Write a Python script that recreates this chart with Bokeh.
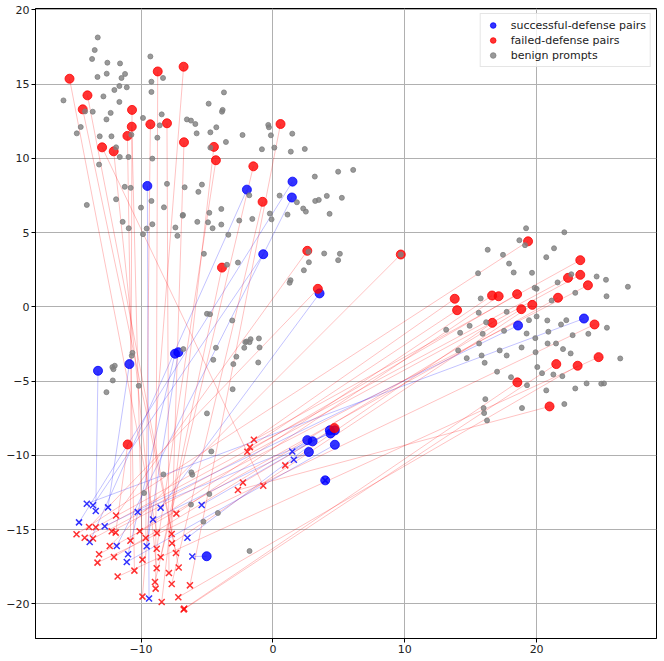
from bokeh.plotting import figure
from bokeh.models import ColumnDataSource, FixedTicker, Legend, LegendItem, Range1d
from bokeh.embed import file_html
from bokeh.resources import INLINE

# successful-defense pairs: harmful prompt (circle) -> defended embedding (x)
succ_src_x = [-5.02, -13.26, -10.88, -9.52, -7.42, -7.17, 3.54, -0.73, 1.49, 1.44, -1.97,
              18.59, 23.59, 3.97, 2.73, 2.61, 3.01, 4.32, 4.70, 4.37, 4.70]
succ_src_y = [-16.80, -4.31, -3.86, 8.14, -3.16, -3.06, 0.90, 3.54, 8.43, 7.36, 7.89,
              -1.26, -0.79, -11.69, -9.78, -8.98, -9.06, -8.32, -8.32, -8.53, -9.29]
succ_dst_x = [-6.11, -13.43, -12.50, -9.39, -10.98, -9.57, -8.51, -13.64, -14.70, -11.84, -13.89,
              -12.75, -14.11, 3.97, 1.59, 1.47, -5.40, -6.48, -9.09, -10.25, -11.08]
succ_dst_y = [-16.82, -13.75, -13.51, -19.65, -16.67, -16.13, -13.53, -13.37, -14.52, -16.11, -15.84,
              -14.78, -13.26, -11.69, -10.30, -9.74, -13.35, -15.55, -14.33, -13.82, -17.19]

# failed-defense pairs
fail_src_x = [-15.42, -14.06, -14.42, -10.68, -10.70, -11.03, -12.95, -12.07, -9.29, -8.03, -8.73,
              -6.77, -6.74, -4.47, -4.32, 0.58, -1.48, -0.78, -3.86, 2.61, 3.41, 9.70,
              -11.01, 4.67, 19.35, 23.31, 23.31, 22.38, 23.89, 21.62, 13.79, 13.97, 16.62,
              17.12, 18.52, 19.67, 18.84, 16.64, 24.39, 21.49, 23.11, 24.70, 18.54, 20.98]
fail_src_y = [15.36, 14.24, 13.30, 13.26, 12.13, 11.51, 10.74, 10.47, 12.29, 12.36, 15.85,
              16.17, 11.08, 10.77, 9.87, 12.31, 9.46, 7.07, 2.64, 3.77, 1.21, 3.52,
              -9.27, -8.17, 4.41, 3.14, 2.15, 1.95, 1.45, 0.61, 0.54, -0.23, 0.76,
              0.71, 0.85, 0.13, -0.16, -1.08, -1.19, -3.86, -3.97, -3.39, -5.09, -6.71]
fail_dst_x = [-8.79, -7.14, -7.35, -10.80, -9.89, -10.50, -0.73, -8.81, -9.64, -7.88, -8.89,
              -9.89, -7.67, -8.43, -8.81, -6.29, -8.94, -7.67, -8.51, -11.89, -13.94, -12.37,
              -11.92, -2.27, -14.89, -13.43, -13.64, -14.27, -12.22, -13.18, -1.44, -1.74, -10.10,
              -7.32, -1.94, -7.65, -12.05, 0.94, -13.30, -6.77, -7.17, -11.77, -6.72, -2.65]
fail_dst_y = [-15.24, -17.56, -16.58, -15.75, -17.03, -17.77, -12.05, -17.61, -15.57, -17.93, -18.98,
              -19.52, -15.30, -19.88, -16.29, -18.76, -18.53, -18.67, -16.87, -14.06, -14.83, -16.11,
              -15.21, -11.84, -15.32, -14.85, -15.61, -15.55, -15.12, -16.67, -8.95, -9.45, -15.12,
              -13.93, -9.76, -15.93, -16.85, -10.68, -17.23, -20.39, -19.56, -18.17, -20.33, -12.34]

# benign prompts
benign_x = [-13.28, -13.51, -13.71, -12.55, -11.59, -13.30, -12.60, -11.21, -11.48, -9.29, -8.33,
            -9.21, -11.64, -11.08, -12.02, -12.85, -15.88, -9.21, -11.64, -14.24, -13.66, -12.30,
            -12.62, -8.43, -9.85, -8.58, -14.57, -14.87, -13.13, -12.24, -10.73, -8.76, -11.89,
            -11.61, -10.95, -9.14, -13.18, -3.71, -4.87, -3.81, -3.86, -6.52, -6.21, -5.88,
            -4.29, -4.74, -5.78, -2.30, -3.56, -4.74, -11.23, -10.78, -8.03, -6.69, -5.38,
            -5.65, -11.89, -9.21, -14.11, -10.00, -8.26, -6.82, -4.82, -3.91,
            -0.35, -0.30, -0.15, 1.47, -0.83, 0.11, 1.36, 2.42, 3.18, 4.95, 6.09, -1.79,
            0.51, 1.82, 3.21, 3.48, 4.09, 5.23, 2.30, 2.50, -0.23, 1.11, 4.30, -1.56, -0.10,
            -11.39, -10.93, -9.57, -9.14, -9.85, -7.39, -7.24, -6.84, -5.73, -4.92, -4.57,
            -3.91, -3.38, -2.55, -5.23, -3.48, -2.65, -5.00, -4.77, -3.08, -4.32, -4.52,
            -3.00, -2.77, -2.09, -2.17, -6.79, -10.65, -10.70, -11.99, -12.17, -12.09, -12.14,
            -12.62, -10.17, -3.05, -5.00,
            3.89, 5.08, 2.73, 4.95, 2.35, 1.34, 1.27, -1.99, -1.77, -1.69, -1.06, -1.01,
            -1.11, 13.14, 2.70, 9.70,
            19.20, 22.10, 18.69, 19.12, 16.29, 21.32, 17.45, 20.73, 17.91, 15.56, 18.26,
            19.65, 22.63, 24.55, 25.26, 26.92, 21.59, 19.85, 20.00, 22.93, 25.30, 15.76,
            21.14, 17.73, 15.61, 19.42, 20.00, 20.81, 21.85, 22.25, 14.92, 16.17, 14.20,
            15.91, 17.53, 19.24, 20.89, 22.73, 23.92, 25.33, 19.90, 15.64, 20.83, 21.47,
            18.86, 14.05, 17.20, 22.00, 15.83, 17.73, 19.92, 22.58, 14.70, 16.06, 26.34,
            20.05, 20.41, 21.27, 21.95, 17.00, 18.06, 19.27, 20.73, 22.93, 23.79, 24.90,
            25.11, 16.11, 15.98, 16.02, 16.24, 18.89, 22.10,
            -4.67, -8.30, -6.18, -6.11, -9.77, -4.82, -6.21, -4.17, -5.27, -1.77]
benign_y = [18.14, 17.29, 16.69, 16.44, 16.39, 15.48, 15.70, 15.68, 15.41, 16.86, 15.41,
            15.16, 14.87, 14.78, 14.60, 14.17, 13.90, 14.47, 13.80, 13.16, 13.14, 13.06,
            12.62, 12.96, 12.72, 12.22, 12.11, 11.68, 11.48, 11.48, 11.59, 11.39, 10.74,
            10.09, 10.09, 9.98, 9.58, 14.44, 13.68, 13.26, 13.14, 12.62, 12.54, 12.31,
            12.09, 11.75, 11.68, 11.57, 11.10, 10.72, 8.08, 8.01, 8.28, 8.05, 8.23,
            7.74, 7.24, 7.13, 6.86, 6.68, 6.70, 6.19, 6.33, 6.59,
            12.25, 12.09, 11.55, 11.66, 10.61, 10.72, 10.45, 10.63, 8.77, 9.10, 9.22, 7.51,
            7.49, 7.04, 7.13, 7.20, 7.47, 7.34, 6.62, 6.41, 6.28, 6.21, 6.26, 5.92, 5.89,
            5.72, 5.29, 5.27, 5.56, 4.89, 5.34, 4.78, 6.14, 5.72, 5.69, 5.29,
            5.54, 4.85, 5.81, 3.57, 2.83, 2.98, -0.47, -0.50, -0.92, -2.76, -3.57,
            -3.86, -3.36, -2.38, -2.76, -2.85, -3.10, -3.30, -3.97, -4.06, -4.20, -4.96,
            -5.75, -5.32, -5.55, -7.18,
            3.59, 3.57, 3.00, 3.14, 2.46, 1.79, 1.62, -2.34, -2.38, -2.18, -2.13, -2.74,
            -3.75, -1.55, 3.70, 3.52,
            5.29, 5.02, 4.48, 4.15, 3.84, 3.94, 3.50, 3.34, 2.91, 2.26, 2.31,
            2.29, 2.19, 2.04, 1.82, 1.35, 1.64, 1.28, 1.21, 0.94, 0.71, 0.56,
            0.42, -0.34, -0.40, -0.90, -0.65, -0.92, -1.19, -0.90, -1.28, -1.04, -1.75,
            -1.82, -1.62, -1.80, -1.68, -1.91, -1.82, -1.41, -2.11, -2.47, -2.47, -2.47,
            -2.74, -2.94, -2.94, -2.85, -3.28, -3.28, -3.06, -3.14, -3.46, -3.77, -3.48,
            -4.06, -4.47, -4.56, -4.67, -4.37, -4.74, -5.28, -5.63, -5.50, -5.16, -5.18,
            -5.16, -6.22, -6.82, -7.16, -7.65, -6.82, -6.55,
            -9.74, -11.29, -11.15, -11.31, -12.54, -12.61, -13.32, -13.89, -14.47, -16.45]

x_ticks = [-10, 0, 10, 20]
y_ticks = [-20, -15, -10, -5, 0, 5, 10, 15, 20]

succ = ColumnDataSource(dict(x0=succ_src_x, y0=succ_src_y, x1=succ_dst_x, y1=succ_dst_y))
fail = ColumnDataSource(dict(x0=fail_src_x, y0=fail_src_y, x1=fail_dst_x, y1=fail_dst_y))
ben = ColumnDataSource(dict(x=benign_x, y=benign_y))

p = figure(width=664, height=661, output_backend="svg", toolbar_location=None,
           x_range=Range1d(-18.0, 29.09), y_range=Range1d(-22.34, 20.09),
           min_border_left=35, min_border_right=8, min_border_top=8, min_border_bottom=23)
p.background_fill_color = "white"
p.border_fill_color = "white"
p.outline_line_color = "black"
p.outline_line_width = 1

FONT = "DejaVu Sans"
for ax, ticks in ((p.xaxis[0], x_ticks), (p.yaxis[0], y_ticks)):
    ax.ticker = FixedTicker(ticks=ticks)
    ax.major_label_overrides = {t: (("\u2212" + str(-t)) if t < 0 else str(t)) for t in ticks}
    ax.minor_tick_line_color = None
    ax.major_tick_out = 4
    ax.major_tick_in = 0
    ax.major_label_standoff = 2
    ax.major_label_text_font = FONT
    ax.major_label_text_font_size = "11px"
    ax.major_label_text_color = "#222222"
    ax.axis_line_color = "black"
    ax.major_tick_line_color = "black"

p.xgrid.ticker = FixedTicker(ticks=x_ticks)
p.ygrid.ticker = FixedTicker(ticks=y_ticks)
for g in (p.xgrid, p.ygrid):
    g.grid_line_color = "#b0b0b0"
    g.grid_line_width = 1

# connecting lines
p.segment("x0", "y0", "x1", "y1", source=succ, line_color="blue", line_alpha=0.3, line_width=0.8)
p.segment("x0", "y0", "x1", "y1", source=fail, line_color="red", line_alpha=0.3, line_width=0.8)

# markers
r_succ = p.scatter("x0", "y0", source=succ, marker="circle", size=9, fill_color="blue",
                   fill_alpha=0.8, line_color="blue", line_alpha=0.8)
p.scatter("x1", "y1", source=succ, marker="x", size=8.5, line_color="blue", line_alpha=0.8, line_width=1.5)
r_fail = p.scatter("x0", "y0", source=fail, marker="circle", size=9, fill_color="red",
                   fill_alpha=0.8, line_color="red", line_alpha=0.8)
p.scatter("x1", "y1", source=fail, marker="x", size=8.5, line_color="red", line_alpha=0.8, line_width=1.5)
r_ben = p.scatter("x", "y", source=ben, marker="circle", size=5, fill_color="gray",
                  fill_alpha=0.8, line_color="gray", line_alpha=0.8)

legend = Legend(items=[
    LegendItem(label="successful-defense pairs", renderers=[r_succ]),
    LegendItem(label="failed-defense pairs", renderers=[r_fail]),
    LegendItem(label="benign prompts", renderers=[r_ben]),
], location="top_right")
legend.margin = 5
legend.padding = 4
legend.spacing = 1
legend.label_text_font = FONT
legend.label_text_font_size = "11px"
legend.label_text_color = "#222222"
legend.label_height = 14
legend.glyph_height = 14
legend.glyph_width = 16
legend.label_standoff = 10
legend.border_line_color = "#cccccc"
legend.border_line_width = 1
legend.background_fill_alpha = 0.8
p.add_layout(legend)

open("out.html", "w").write(file_html(p, INLINE))
